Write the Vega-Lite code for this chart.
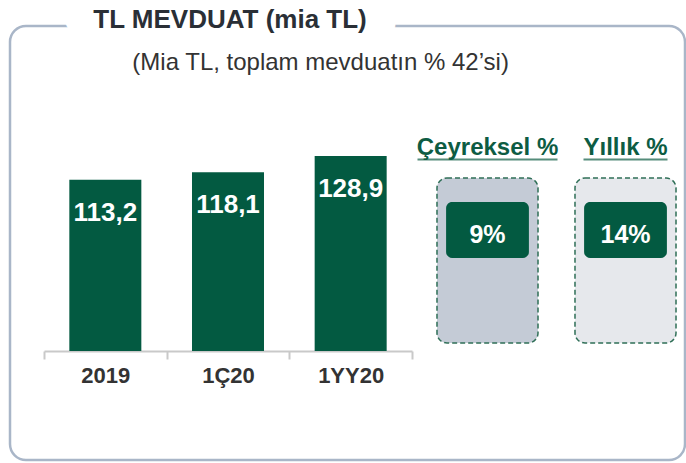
{
  "$schema": "https://vega.github.io/schema/vega-lite/v6.json",
  "width": 675,
  "height": 434,
  "autosize": {"type": "none"},
  "padding": {"left": 10, "top": 26, "right": 1, "bottom": 3},
  "background": "white",
  "config": {
    "view": {"stroke": null},
    "font": "Liberation Sans"
  },
  "datasets": {
    "bakiye": [
      {"donem": "2019", "deger": 113.2, "etiket": "113,2"},
      {"donem": "1Ç20", "deger": 118.1, "etiket": "118,1"},
      {"donem": "1YY20", "deger": 128.9, "etiket": "128,9"}
    ],
    "buyume": [
      {"metrik": "Çeyreksel %", "oran": "9%"},
      {"metrik": "Yıllık %", "oran": "14%"}
    ],
    "basliklar": [
      {"baslik": "TL MEVDUAT (mia TL)", "altbaslik": "(Mia TL, toplam mevduatın % 42’si)"}
    ]
  },
  "layer": [
    {
      "data": {"name": "basliklar"},
      "mark": {"type": "rect", "fillOpacity": 0, "stroke": "#a9b6c8", "strokeWidth": 2.5, "cornerRadius": 16},
      "encoding": {}
    },
    {
      "layer": [
        {
          "data": {"name": "basliklar"},
          "mark": {"type": "text", "align": "center", "baseline": "alphabetic", "fontWeight": "bold", "fontSize": 26, "fill": "white", "stroke": "white", "strokeWidth": 60, "strokeJoin": "round", "dx": 2},
          "encoding": {"x": {"datum": "1Ç20"}, "y": {"datum": 213.5, "axis": null}, "text": {"field": "baslik"}}
        },
        {
          "data": {"name": "basliklar"},
          "mark": {"type": "text", "align": "center", "baseline": "alphabetic", "fontWeight": "bold", "fontSize": 26, "color": "#2a2f36", "dx": 2},
          "encoding": {"x": {"datum": "1Ç20"}, "y": {"datum": 213.5, "axis": null}, "text": {"field": "baslik"}}
        },
        {
          "data": {"name": "basliklar"},
          "mark": {"type": "text", "align": "left", "baseline": "alphabetic", "fontSize": 24, "color": "#333333", "dx": 27},
          "encoding": {"x": {"datum": "2019"}, "y": {"datum": 185.7, "axis": null}, "text": {"field": "altbaslik"}}
        },
        {
          "data": {"name": "bakiye"},
          "mark": {"type": "bar", "color": "#035a41", "width": {"band": 0.587}},
          "encoding": {
            "x": {
              "field": "donem", "type": "nominal", "sort": null,
              "scale": {"domain": ["2019", "1Ç20", "1YY20"], "range": [34, 402], "paddingInner": 0, "paddingOuter": 0},
              "axis": {"orient": "bottom", "offset": -109, "title": null, "domainColor": "#c9c9c9", "domainWidth": 2, "tickColor": "#c9c9c9", "tickWidth": 2, "tickSize": 8, "tickBand": "extent", "labelFont": "Liberation Sans", "labelFontSize": 22, "labelFontWeight": "bold", "labelColor": "#333333", "labelPadding": 6, "labelAngle": 0, "labelAlign": "center", "labelBaseline": "top", "grid": false}
            },
            "y": {"field": "deger", "type": "quantitative", "scale": {"domain": [-72.04, 214.8], "nice": false, "zero": false}, "axis": null}
          }
        },
        {
          "data": {"name": "bakiye"},
          "mark": {"type": "text", "align": "center", "baseline": "alphabetic", "dy": 41, "fontWeight": "bold", "fontSize": 26, "color": "white"},
          "encoding": {
            "x": {"field": "donem", "type": "nominal", "sort": null},
            "y": {"field": "deger", "type": "quantitative", "axis": null},
            "text": {"field": "etiket"}
          }
        }
      ]
    },
    {
      "data": {"name": "buyume"},
      "encoding": {
        "x": {
          "field": "metrik", "type": "nominal", "sort": null,
          "scale": {"domain": ["Çeyreksel %", "Yıllık %"], "range": [408.5, 684.5], "paddingInner": 0, "paddingOuter": 0},
          "axis": null
        }
      },
      "layer": [
        {
          "mark": {"type": "bar", "width": {"band": 0.732}, "cornerRadius": 10, "stroke": "#2f6f57", "strokeWidth": 1.5, "strokeDash": [5, 3]},
          "encoding": {
            "y": {"datum": 114.3, "scale": {"domain": [-72.04, 214.8], "nice": false, "zero": false}, "axis": null},
            "y2": {"datum": 5.3},
            "color": {"field": "metrik", "type": "nominal", "scale": {"domain": ["Çeyreksel %", "Yıllık %"], "range": ["#c4cbd6", "#e6e8ec"]}, "legend": null}
          }
        },
        {
          "mark": {"type": "bar", "width": {"band": 0.6}, "cornerRadius": 6, "color": "#035a41"},
          "encoding": {"y": {"datum": 98.5, "axis": null}, "y2": {"datum": 61.5}}
        },
        {
          "mark": {"type": "text", "align": "center", "baseline": "alphabetic", "fontSize": 25, "fontWeight": "bold", "color": "white"},
          "encoding": {"y": {"datum": 71.4, "axis": null}, "text": {"field": "oran"}}
        },
        {
          "mark": {"type": "text", "align": "center", "baseline": "alphabetic", "fontSize": 24, "fontWeight": "bold", "color": "#0d5c43"},
          "encoding": {"y": {"datum": 129.5, "axis": null}, "text": {"field": "metrik"}}
        },
        {
          "mark": {"type": "tick", "thickness": 2, "color": "#0d5c43"},
          "encoding": {
            "y": {"datum": 126.6, "axis": null},
            "size": {"condition": {"test": "datum.metrik === 'Yıllık %'", "value": 84}, "value": 140}
          }
        }
      ]
    }
  ],
  "resolve": {"scale": {"x": "independent", "y": "independent"}}
}
